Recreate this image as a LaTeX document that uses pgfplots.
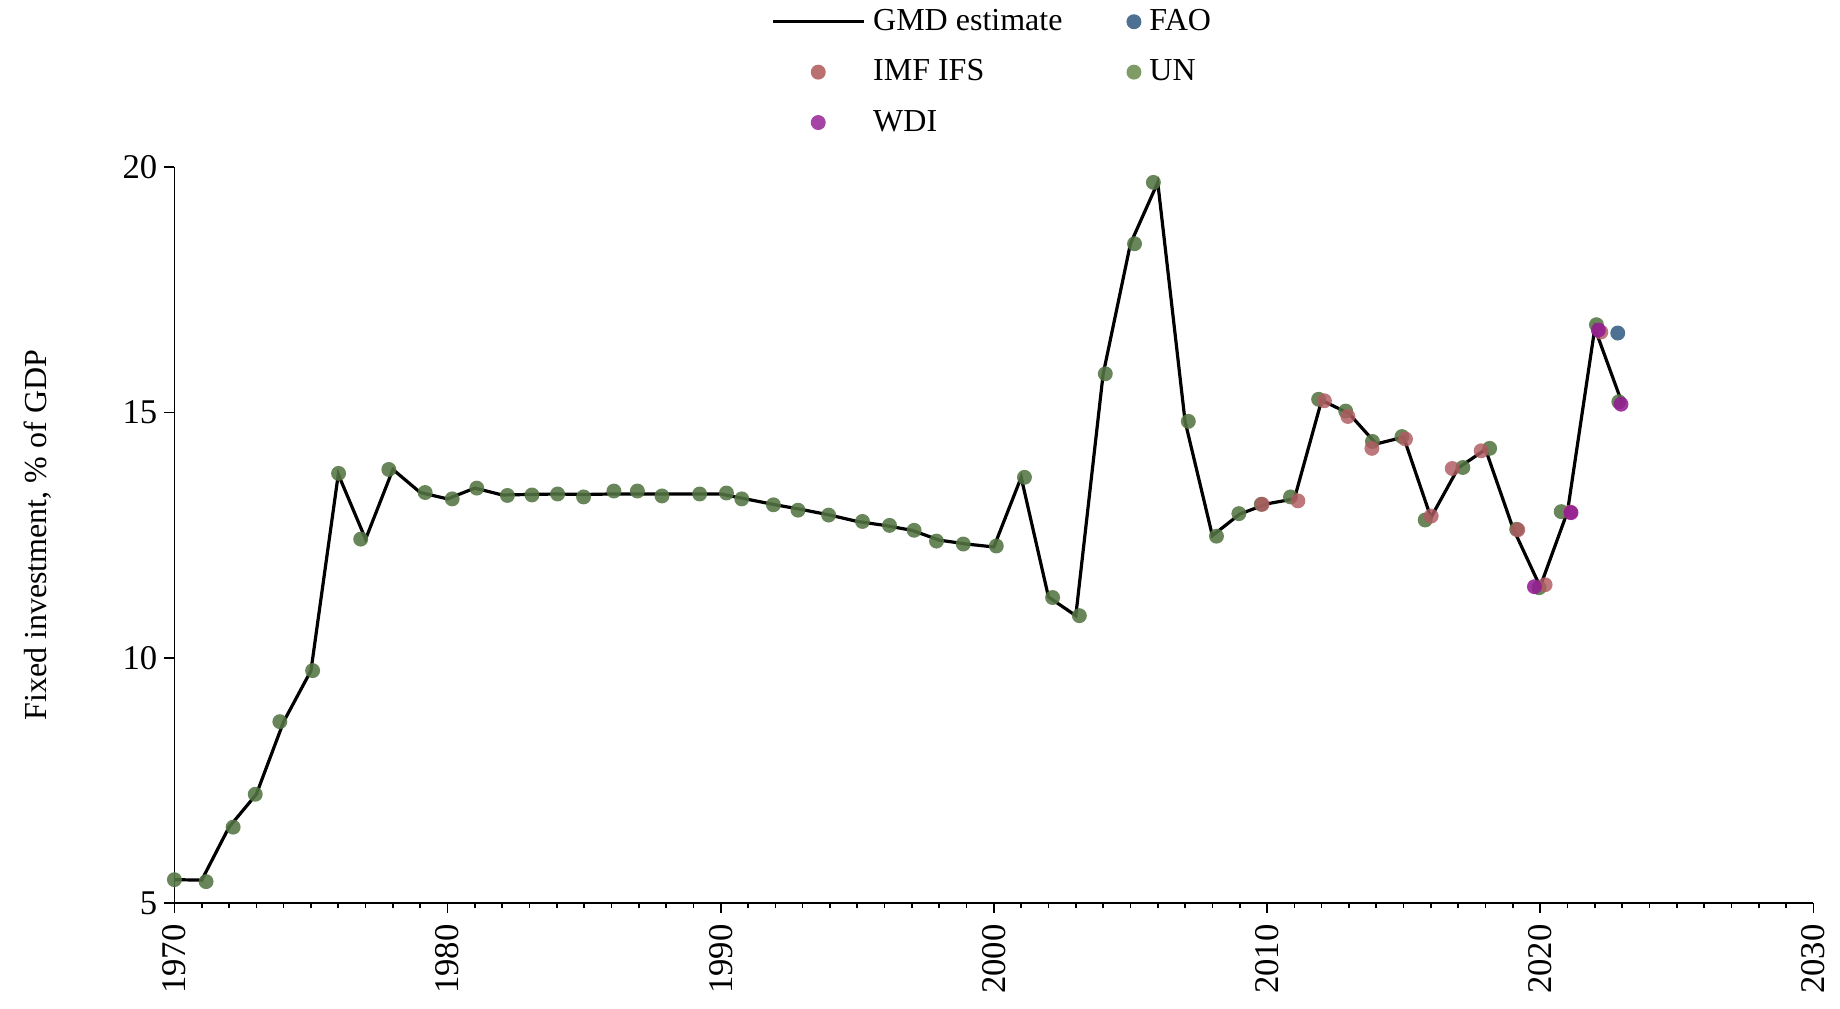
\documentclass[border=0pt,12pt]{standalone}
\usepackage{fontspec}
\setmainfont{Liberation Serif}
\usepackage{pgfplots}
\pgfplotsset{compat=1.18}

\definecolor{unC}{RGB}{84,117,68}
\definecolor{unL}{RGB}{128,156,102}
\definecolor{imfC}{RGB}{176,90,96}
\definecolor{imfL}{RGB}{186,112,112}
\definecolor{wdiC}{RGB}{148,28,148}
\definecolor{wdiL}{RGB}{165,68,165}
\definecolor{faoC}{RGB}{78,112,146}

\begin{document}
\begin{tikzpicture}
\begin{axis}[
  at={(0,0)}, anchor=south west,
  width=614.6pt, height=276pt, scale only axis,
  xmin=1970, xmax=2030, ymin=5, ymax=20,
  axis lines*=left,
  axis line style={line width=0.6pt},
  xtick={1970,1980,...,2030},
  minor x tick num=9,
  ytick={5,10,15,20},
  tick align=outside,
  major tick length=3.75pt,
  minor tick length=1.9pt,
  tick style={black, line width=0.6pt},
  /pgf/number format/assume math mode=true,
  xticklabel={\pgfmathprintnumber[1000 sep={}]{\tick}},
  xticklabel style={rotate=90, anchor=east, font=\fontsize{13}{15}\selectfont},
  yticklabel style={inner xsep=2.5pt, font=\fontsize{13}{15}\selectfont},
  ylabel={Fixed investment, \% of GDP},
  ylabel style={at={(axis description cs:-0.0835,0.5)}, anchor=center, font=\fontsize{12}{14}\selectfont},
  legend columns=2,
  legend cell align=left,
  legend style={at={(axis description cs:0.5,1)}, anchor=north, yshift=62.5pt,
    draw=none, fill=none, inner sep=0pt, row sep=3.4pt,
    font=\fontsize{12}{14}\selectfont,
    nodes={inner ysep=2pt, text height=9pt, text depth=2.5pt},
    /tikz/every odd column/.append style={column sep=1pt},
    /tikz/every even column/.append style={column sep=22pt}},
  dot/.style={only marks, mark=*, mark size=2.8pt, color=#1, mark options={draw opacity=0}},
]
\addlegendimage{line legend, legend image code/.code={\draw[black, line width=1.2pt] (0pt,0pt) -- (34pt,0pt);}}
\addlegendentry{GMD estimate}
\addlegendimage{legend image code/.code={\fill[faoC] (0pt,0pt) circle (2.6pt);}}
\addlegendentry{FAO}
\addlegendimage{legend image code/.code={\fill[imfL] (17pt,0pt) circle (2.6pt);}}
\addlegendentry{IMF IFS}
\addlegendimage{legend image code/.code={\fill[unL] (0pt,0pt) circle (2.6pt);}}
\addlegendentry{UN}
\addlegendimage{legend image code/.code={\fill[wdiL] (17pt,0pt) circle (2.6pt);}}
\addlegendentry{WDI}

% GMD estimate
\addplot[black, line width=1.2pt, forget plot] coordinates {
(1970,5.48) (1971,5.47) (1972,6.55) (1973,7.22) (1974,8.70) (1975,9.74)
(1976,13.74) (1977,12.42) (1978,13.84) (1979,13.37) (1980,13.24) (1981,13.46)
(1982,13.32) (1983,13.33) (1984,13.34) (1985,13.33) (1986,13.34) (1987,13.34)
(1988,13.34) (1989,13.34) (1990,13.34) (1991,13.23) (1992,13.12) (1993,13.02)
(1994,12.91) (1995,12.78) (1996,12.70) (1997,12.60) (1998,12.40) (1999,12.32)
(2000,12.26) (2001,13.68) (2002,11.24) (2003,10.86) (2004,15.78) (2005,18.44)
(2006,19.69) (2007,14.82) (2008,12.49) (2009,12.93) (2010,13.14) (2011,13.24)
(2012,15.25) (2013,14.98) (2014,14.36) (2015,14.50) (2016,12.86) (2017,13.87)
(2018,14.25) (2019,12.65) (2020,11.45) (2021,12.98) (2022,16.72) (2023,15.19)
};

% UN
\addplot[dot=unC, fill opacity=0.88, forget plot] coordinates {
(1970.00,5.48) (1971.16,5.44) (1972.15,6.55) (1972.96,7.22) (1973.86,8.70)
(1975.06,9.74) (1976.01,13.76) (1976.82,12.42) (1977.85,13.84) (1979.18,13.37)
(1980.17,13.24) (1981.07,13.46) (1982.19,13.31) (1983.09,13.32) (1984.03,13.34)
(1984.98,13.28) (1986.09,13.40) (1986.95,13.40) (1987.85,13.30) (1989.23,13.34)
(1990.21,13.36) (1990.77,13.24) (1991.93,13.12) (1992.83,13.01) (1993.95,12.91)
(1995.19,12.78) (1996.18,12.70) (1997.08,12.60) (1997.90,12.38) (1998.88,12.32)
(2000.09,12.28) (2001.12,13.68) (2002.15,11.23) (2003.13,10.86) (2004.08,15.79)
(2005.15,18.44) (2005.84,19.69) (2007.12,14.82) (2008.15,12.48) (2008.97,12.94)
(2009.79,13.13) (2010.86,13.28) (2011.89,15.27) (2012.88,15.03) (2013.86,14.41)
(2014.94,14.51) (2015.79,12.81) (2017.17,13.88) (2018.15,14.27) (2019.14,12.62)
(2019.96,11.43) (2020.77,12.98) (2022.06,16.79) (2022.88,15.22)
};

% IMF IFS
\addplot[dot=imfC, fill opacity=0.82, forget plot] coordinates {
(2009.82,13.13) (2011.13,13.20) (2012.10,15.24) (2012.96,14.92) (2013.84,14.27)
(2015.07,14.46) (2016.01,12.89) (2016.78,13.86) (2017.84,14.22) (2019.18,12.61)
(2020.18,11.49) (2021.10,12.97) (2022.22,16.64)
};

% WDI
\addplot[dot=wdiC, fill opacity=0.88, forget plot] coordinates {
(2019.79,11.45) (2021.13,12.96) (2022.13,16.68) (2022.96,15.17)
};

% FAO
\addplot[dot=faoC, forget plot] coordinates {
(2022.84,16.62)
};
\end{axis}
\pgfresetboundingbox
\path[use as bounding box] (-65.4pt,-39.3pt) rectangle (624.6pt,338.7pt);
\end{tikzpicture}
\end{document}
